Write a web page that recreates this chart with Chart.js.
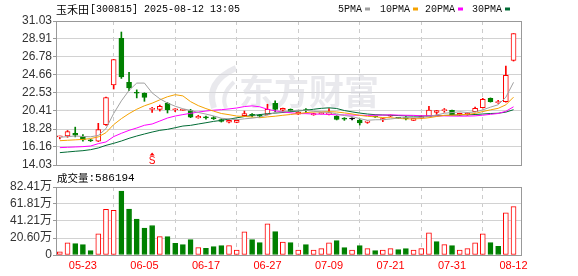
<!DOCTYPE html>
<html>
<head>
<meta charset="utf-8">
<script src="https://cdn.jsdelivr.net/npm/chart.js@4.4.1/dist/chart.umd.min.js"></script>
<style>
html,body{margin:0;padding:0;background:#fff;}
#wrap{position:relative;width:578px;height:276px;overflow:hidden;background:#fff;}
#c1{position:absolute;left:0;top:0;}
#c2{position:absolute;left:0;top:165px;}
</style>
</head>
<body>
<div id="wrap">
<canvas id="c1" width="578" height="176"></canvas>
<canvas id="c2" width="578" height="111"></canvas>
</div>
<script>
// ---------- data ----------
const stockName = '玉禾田';
const stockInfo = '[300815] 2025-08-12 13:05';
const volumeTitle = '成交量';
const lastVolumeText = ':586194';
const watermark = '东方财富';

const dates = ['05-20','05-21','05-22','05-23','05-26','05-27','05-28','05-29','05-30','06-03',
  '06-04','06-05','06-06','06-09','06-10','06-11','06-12','06-13','06-16','06-17',
  '06-18','06-19','06-20','06-23','06-24','06-25','06-26','06-27','06-30','07-01',
  '07-02','07-03','07-04','07-07','07-08','07-09','07-10','07-11','07-14','07-15',
  '07-16','07-17','07-18','07-21','07-22','07-23','07-24','07-25','07-28','07-29',
  '07-30','07-31','08-01','08-04','08-05','08-06','08-07','08-08','08-11','08-12'];

const opens = [17.35,17.45,17.78,17.38,16.95,16.83,18.80,23.47,28.99,23.79,
  22.60,22.50,20.60,20.60,21.31,20.55,20.47,20.45,19.60,19.66,
  19.56,19.40,19.08,19.05,19.86,19.98,19.88,20.00,21.31,20.50,
  20.60,20.02,20.52,19.95,20.10,20.00,19.81,19.50,19.46,19.34,
  19.07,19.75,19.35,19.80,19.60,19.60,19.30,19.62,19.74,20.25,
  20.45,20.49,19.90,19.93,20.33,20.80,21.90,21.40,21.50,26.39];
const closes = [17.40,17.97,17.55,17.00,16.88,18.21,22.00,26.47,24.42,23.12,
  22.50,22.00,20.68,20.96,20.57,20.62,20.52,19.68,19.78,19.60,
  19.50,19.18,19.30,19.30,20.10,19.90,19.80,20.60,20.60,20.72,
  20.35,20.28,20.45,20.10,20.20,20.20,19.42,19.45,19.46,19.00,
  19.22,19.70,19.50,19.90,19.55,19.50,19.54,19.70,20.52,20.45,
  20.50,19.93,20.13,20.16,20.72,21.78,21.52,21.50,24.62,29.54];
const highs = [17.45,18.10,18.50,17.62,17.05,18.95,22.05,26.50,29.73,24.97,
  22.90,22.55,20.85,21.10,21.40,20.68,20.60,20.60,19.90,19.80,
  19.75,19.48,19.35,19.32,20.40,20.10,20.00,21.20,21.60,20.75,
  20.65,20.30,20.70,20.15,20.22,20.70,19.85,19.62,19.60,19.40,
  19.25,19.80,19.52,19.95,19.62,19.75,19.56,19.85,20.96,20.48,
  20.70,20.52,20.15,20.20,20.88,21.90,21.95,21.67,25.72,29.54];
const lows = [17.10,17.30,17.35,16.85,16.80,16.79,18.70,23.00,24.25,22.80,
  21.95,21.55,20.25,20.40,20.17,20.33,20.45,19.62,19.55,19.45,
  19.40,19.10,19.00,19.02,19.80,19.70,19.65,19.95,20.33,20.20,
  20.30,20.00,20.20,19.90,20.05,19.95,19.35,19.30,19.35,18.75,
  18.95,19.65,19.15,19.75,19.50,19.35,19.28,19.50,19.70,20.00,
  20.25,19.90,19.88,19.90,20.30,20.75,21.45,21.30,21.45,26.30];

const ma5 = [17.30,17.38,17.45,17.40,17.36,17.52,18.33,20.11,21.60,22.84,
  23.70,23.70,22.54,21.85,21.34,20.97,20.67,20.47,20.23,20.04,
  19.82,19.55,19.47,19.38,19.48,19.56,19.68,19.94,20.20,20.32,
  20.41,20.51,20.48,20.38,20.28,20.25,20.07,19.87,19.75,19.51,
  19.31,19.37,19.38,19.46,19.57,19.63,19.60,19.64,19.76,19.94,
  20.14,20.22,20.31,20.23,20.29,20.54,20.86,21.14,22.03,23.79];
const ma10 = [16.90,16.95,17.00,17.05,17.15,17.35,17.85,18.80,19.50,20.10,
  20.61,21.02,21.33,21.72,22.09,22.33,22.19,21.51,21.04,20.69,
  20.39,20.11,19.97,19.81,19.76,19.69,19.61,19.71,19.79,19.90,
  19.99,20.10,20.21,20.29,20.30,20.33,20.29,20.18,20.06,19.89,
  19.78,19.72,19.63,19.61,19.54,19.47,19.48,19.51,19.61,19.76,
  19.89,19.91,19.97,20.00,20.12,20.34,20.54,20.72,21.13,22.04];
const ma20 = [16.08,16.12,16.16,16.20,16.27,16.55,16.75,17.38,17.77,18.12,
  18.40,18.72,18.87,19.22,19.58,19.81,19.98,20.13,20.28,20.40,
  20.50,20.56,20.65,20.76,20.93,21.01,20.90,20.61,20.42,20.30,
  20.19,20.10,20.09,20.05,20.03,20.01,19.95,19.94,19.93,19.90,
  19.88,19.91,19.92,19.95,19.92,19.90,19.89,19.84,19.84,19.82,
  19.83,19.81,19.80,19.80,19.83,19.91,20.01,20.11,20.37,20.90];
const ma30 = [15.49,15.57,15.65,15.72,15.84,16.04,16.35,16.59,16.86,17.18,
  17.45,17.69,17.92,18.12,18.24,18.43,18.63,18.71,18.87,19.02,
  19.18,19.30,19.45,19.60,19.75,19.88,19.98,20.08,20.16,20.23,
  20.33,20.41,20.50,20.61,20.72,20.78,20.70,20.46,20.30,20.16,
  20.05,19.97,19.94,19.90,19.87,19.83,19.80,19.80,19.82,19.85,
  19.88,19.91,19.94,19.96,19.99,20.05,20.11,20.14,20.27,20.56];

// volume in 万 (10k) units
const volumes = [3.7,14.6,13.8,12.6,5.3,25.6,55.2,54.0,77.5,55.6,
  43.4,32.5,35.7,22.3,22.3,14.2,12.6,18.7,8.9,8.1,
  10.1,11.4,11.4,6.1,28.0,18.7,15.0,37.8,28.4,15.8,
  15.0,6.1,12.6,6.1,7.7,14.6,17.5,8.9,6.1,11.4,
  7.7,5.3,6.1,7.7,6.5,7.7,6.1,7.7,26.8,16.2,
  12.6,11.4,6.1,7.7,14.6,25.6,15.0,10.6,51.1,58.62];
const volumeUp = [1,1,0,0,0,1,1,1,0,0,
  0,0,0,1,0,0,0,0,1,0,
  0,0,1,1,1,0,0,1,0,1,
  0,1,0,1,1,1,0,0,1,0,
  1,0,1,1,0,0,1,1,1,0,
  1,0,1,1,1,1,0,0,1,1];

const priceTicks = [14.03,16.16,18.28,20.41,22.53,24.66,26.78,28.91,31.03];
const volumeTicks = [0,20.60,41.21,61.81,82.41];
const xTickLabels = ['05-23','06-05','06-17','06-27','07-09','07-21','07-31','08-12'];
const maNames = ['5PMA','10PMA','20PMA','30PMA'];
const signalDate = '06-06';
const signalText = 'S';

// ---------- styles ----------
const RED = '#ff0000', GREEN = '#008000';
const MA_COLORS = ['#a0a0a0','#f5a200','#ff00ff','#006b35'];
const SANS = "'Liberation Sans', 'Noto Sans CJK SC', sans-serif";
const MONO = "'Liberation Mono', monospace";
const CJK = "'Noto Sans CJK SC', sans-serif";

const idx = dates.map((_, i) => i);
const candleColor = i => closes[i] > opens[i] ? RED : (closes[i] < opens[i] ? GREEN : '#000000');

function xScale(showLabels) {
  return {
    type: 'linear', min: -0.5, max: 60.1, offset: false, bounds: 'data',
    afterBuildTicks: s => { s.ticks = xTickLabels.map(l => ({ value: dates.indexOf(l) })); },
    afterFit: s => { s.height = showLabels ? 21 : 0; },
    ticks: { display: showLabels, autoSkip: false, maxRotation: 0, color: RED,
      font: { family: SANS, size: 11 }, padding: 4, callback: v => dates[v] },
    grid: { color: '#cccccc', drawTicks: false, lineWidth: 1 },
    border: { display: false, dash: [4, 4] }
  };
}

const framePlugin = {
  id: 'frame',
  afterDraw(c) {
    const { ctx, chartArea: a } = c;
    ctx.save();
    ctx.strokeStyle = '#999999';
    ctx.lineWidth = 1;
    ctx.strokeRect(Math.round(a.left) + 0.5, Math.round(a.top) + 0.5,
      Math.round(a.right - a.left) - 1, Math.round(a.bottom - a.top));
    ctx.restore();
  }
};

const pricePlugin = {
  id: 'priceText',
  beforeDatasetsDraw(c) {
    const ctx = c.ctx;
    ctx.save();
    ctx.fillStyle = 'rgba(215,215,222,0.55)';
    ctx.font = 'bold 35px ' + CJK;
    ctx.textBaseline = 'middle';
    ctx.textAlign = 'left';
    ctx.fillText(watermark, 239, 92);
    ctx.strokeStyle = 'rgba(215,215,222,0.55)';
    ctx.lineWidth = 6;
    ctx.beginPath();
    ctx.moveTo(236, 68); ctx.quadraticCurveTo(205, 82, 214, 108);
    ctx.stroke();
    ctx.lineWidth = 4;
    ctx.beginPath();
    ctx.moveTo(234, 82); ctx.quadraticCurveTo(220, 95, 226, 108);
    ctx.stroke();
    ctx.restore();
  },
  afterDraw(c) {
    const ctx = c.ctx;
    ctx.save();
    ctx.textBaseline = 'middle';
    ctx.textAlign = 'left';
    ctx.fillStyle = '#000';
    ctx.font = '11px ' + CJK;
    ctx.fillText(stockName, 56, 9.5);
    const w = ctx.measureText(stockName).width;
    ctx.font = '10px ' + MONO;
    ctx.fillText(stockInfo, 56 + w + 1, 9.5);
    const lx = [338, 380, 425, 472];
    maNames.forEach((n, k) => {
      ctx.fillStyle = '#111';
      ctx.font = '10px ' + MONO;
      ctx.fillText(n, lx[k], 9.5);
      const tw = ctx.measureText(n).width;
      ctx.fillStyle = MA_COLORS[k];
      ctx.fillRect(lx[k] + tw + 3, 7.5, 5, 3);
    });
    const sx = c.scales.x.getPixelForValue(dates.indexOf(signalDate));
    ctx.fillStyle = RED;
    ctx.beginPath();
    ctx.moveTo(sx - 2.5, 155.5); ctx.lineTo(sx + 2.5, 155.5); ctx.lineTo(sx, 152.5); ctx.closePath();
    ctx.fill();
    ctx.font = '10px ' + SANS;
    ctx.textAlign = 'center';
    ctx.fillText(signalText, sx, 161);
    ctx.restore();
  }
};

const volPlugin = {
  id: 'volText',
  afterDraw(c) {
    const ctx = c.ctx;
    ctx.save();
    ctx.textBaseline = 'middle';
    ctx.textAlign = 'left';
    ctx.fillStyle = '#000';
    ctx.font = '10.5px ' + CJK;
    ctx.fillText(volumeTitle, 57, 13);
    const w = ctx.measureText(volumeTitle).width;
    ctx.font = '11px ' + MONO;
    ctx.fillText(lastVolumeText, 57 + w, 13);
    ctx.restore();
  }
};

const lineDs = (arr, k, order) => ({
  type: 'line', data: idx.map(i => ({ x: i, y: arr[i] })), borderColor: MA_COLORS[k],
  borderWidth: 1, pointRadius: 0, tension: 0, fill: false, order
});

new Chart(document.getElementById('c1'), {
  type: 'bar',
  data: {
    datasets: [
      { data: idx.map(i => ({ x: i, y: [lows[i], highs[i]] })), barThickness: 1, grouped: false,
        backgroundColor: idx.map(candleColor), borderWidth: 0, order: 6 },
      { data: idx.map(i => ({ x: i, y: [opens[i], closes[i]] })), barThickness: 5, grouped: false,
        backgroundColor: idx.map(i => closes[i] > opens[i] ? '#ffffff' : candleColor(i)),
        borderColor: idx.map(candleColor), borderWidth: 1, borderSkipped: false, minBarLength: 1, order: 5 },
      lineDs(ma30, 3, 4), lineDs(ma20, 2, 3), lineDs(ma10, 1, 2), lineDs(ma5, 0, 1)
    ]
  },
  options: {
    responsive: false, animation: false, events: [],
    layout: { padding: { top: 21, right: 56, bottom: 11, left: 0 } },
    plugins: { legend: { display: false }, tooltip: { enabled: false } },
    scales: {
      x: xScale(false),
      y: {
        type: 'linear', min: 14.03, max: 31.03, position: 'left', bounds: 'data',
        afterBuildTicks: s => { s.ticks = priceTicks.map(v => ({ value: v })); },
        afterFit: s => { s.width = 56; },
        ticks: { autoSkip: false, color: '#333', font: { family: SANS, size: 12 }, padding: 1, callback: v => v.toFixed(2) },
        grid: { color: '#d2d2d2', tickColor: '#999', tickLength: 3 },
        border: { display: false }
      }
    }
  },
  plugins: [pricePlugin, framePlugin]
});

new Chart(document.getElementById('c2'), {
  type: 'bar',
  data: {
    datasets: [{
      data: idx.map(i => ({ x: i, y: volumes[i] })), barThickness: 5, grouped: false,
      backgroundColor: idx.map(i => volumeUp[i] ? '#ffffff' : GREEN),
      borderColor: idx.map(i => volumeUp[i] ? RED : GREEN),
      borderWidth: 1, borderSkipped: false
    }]
  },
  options: {
    responsive: false, animation: false, events: [],
    layout: { padding: { top: 22, right: 56, bottom: 0, left: 0 } },
    plugins: { legend: { display: false }, tooltip: { enabled: false } },
    scales: {
      x: xScale(true),
      y: {
        type: 'linear', min: 0, max: 82.41, position: 'left', bounds: 'data',
        afterBuildTicks: s => { s.ticks = volumeTicks.map(v => ({ value: v })); },
        afterFit: s => { s.width = 56; },
        ticks: { autoSkip: false, color: '#333', font: { family: SANS, size: 12 }, padding: 1,
          callback: v => v === 0 ? '0' : v.toFixed(2) + '万' },
        grid: { color: '#d2d2d2', tickColor: '#999', tickLength: 3 },
        border: { display: false }
      }
    }
  },
  plugins: [volPlugin, framePlugin]
});
</script>
</body>
</html>
